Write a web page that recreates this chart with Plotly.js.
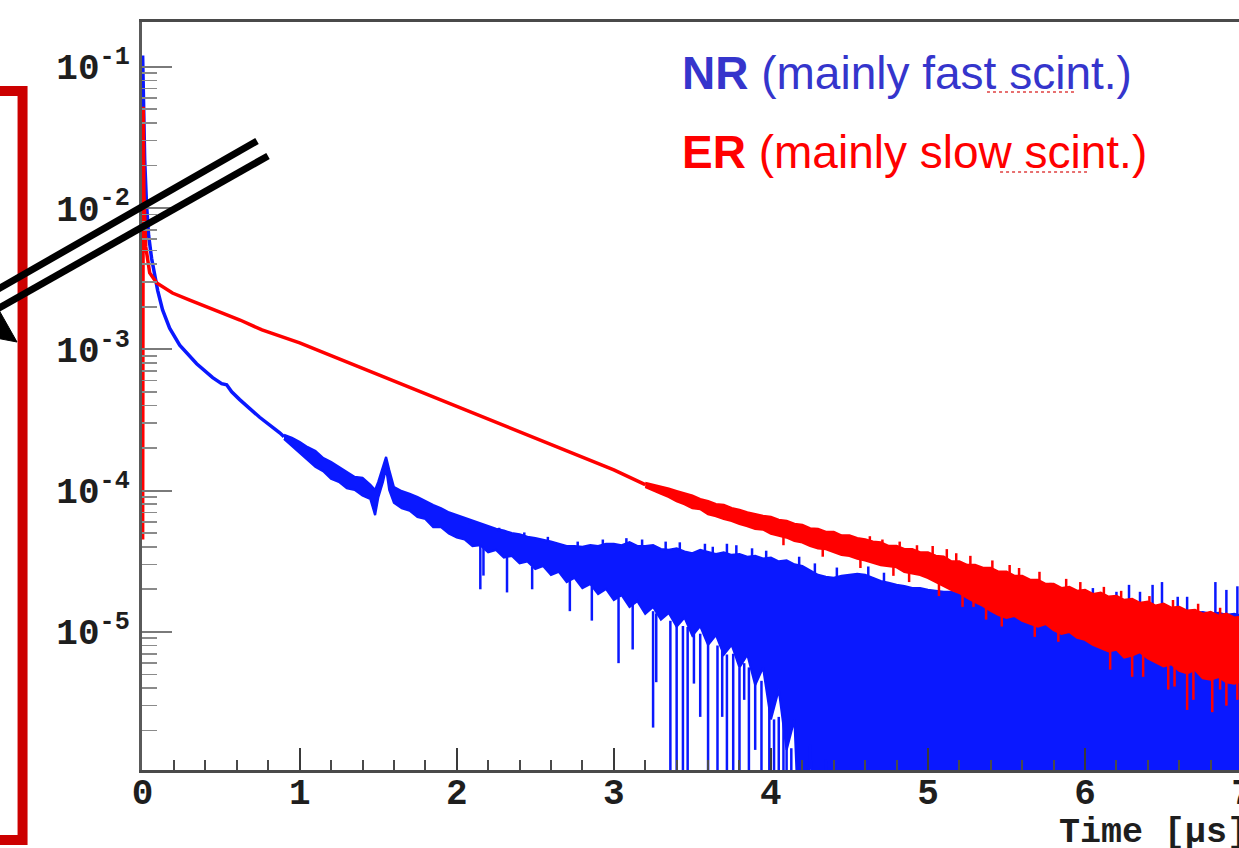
<!DOCTYPE html>
<html>
<head>
<meta charset="utf-8">
<script src="https://cdn.plot.ly/plotly-3.0.1.min.js"></script>
<style>
  html, body { margin: 0; padding: 0; background: #ffffff; overflow: hidden; width: 1239px; height: 848px; }
  #chart { position: absolute; left: -60px; top: 0; width: 1400px; height: 848px; }
</style>
</head>
<body>
<div id="chart"></div>
<script>
// ---------------- data ----------------
// NR (blue): steep fast component, then slow noisy tail
const blueLineT = [0, 0.006, 0.013, 0.025, 0.038, 0.057, 0.076, 0.096, 0.127, 0.172, 0.236, 0.344, 0.446, 0.503, 0.535, 0.567, 0.618, 0.745, 0.873, 0.90];
const blueLineY = [1.2e-1, 5.8e-2, 2.2e-2, 1.05e-2, 6.4e-3, 4.4e-3, 3.4e-3, 2.6e-3, 1.9e-3, 1.41e-3, 1.07e-3, 7.9e-4, 6.3e-4, 5.7e-4, 5.6e-4, 5.0e-4, 4.4e-4, 3.3e-4, 2.56e-4, 2.4e-4];

const blueBandT = [0.90,0.95,1.00,1.05,1.10,1.15,1.20,1.25,1.30,1.35,1.40,1.45,1.48,1.50,1.53,1.55,1.57,
  1.60,1.65,1.70,1.75,1.80,1.85,1.90,1.95,2.00,2.05,2.10,2.15,2.20,2.25,2.30,2.35,2.40,2.45,2.50,2.55,2.60,2.65,2.70,2.75,2.80,2.85,2.90,2.95,
  3.00,3.05,3.10,3.15,3.20,3.25,3.30,3.35,3.40,3.45,3.50,3.55,3.60,3.65,3.70,3.75,3.80,3.85,3.90,3.95,
  4.00,4.05,4.10,4.15,4.20,4.25,4.30,4.35,4.40,4.45,4.50,4.55,4.60,4.65,4.70,4.75,4.80,4.85,4.90,4.95,
  5.00,5.05,5.10,5.15,5.20,5.25,5.30,5.35,5.40,5.45,5.50,5.55,5.60,5.65,5.70,5.75,5.80,5.85,5.90,5.95,
  6.00,6.05,6.10,6.15,6.20,6.25,6.30,6.35,6.40,6.45,6.50,6.55,6.60,6.65,6.70,6.75,6.80,6.85,6.90,6.95,7.00,7.05];
const blueHi = [2.48e-4,2.36e-4,2.21e-4,2.03e-4,1.91e-4,1.7e-4,1.59e-4,1.47e-4,1.37e-4,1.25e-4,1.23e-4,1.1e-4,1.01e-4,1.15e-4,1.47e-4,1.73e-4,1.4e-4,
  1.06e-4,9.9e-5,9.5e-5,9.0e-5,8.4e-5,7.9e-5,7.5e-5,7.0e-5,6.7e-5,6.4e-5,6.1e-5,5.8e-5,5.6e-5,5.35e-5,5.2e-5,5.0e-5,4.9e-5,4.7e-5,4.6e-5,4.5e-5,4.35e-5,4.2e-5,4.05e-5,4.05e-5,4.0e-5,4.1e-5,4.05e-5,4.2e-5,
  4.2e-5,4.1e-5,4.3e-5,4.05e-5,4.05e-5,4.1e-5,3.85e-5,3.8e-5,3.9e-5,3.7e-5,3.6e-5,3.8e-5,3.65e-5,3.55e-5,3.65e-5,3.5e-5,3.55e-5,3.4e-5,3.45e-5,3.3e-5,
  3.35e-5,3.15e-5,3.2e-5,3.0e-5,2.92e-5,2.7e-5,2.53e-5,2.45e-5,2.41e-5,2.49e-5,2.53e-5,2.57e-5,2.53e-5,2.41e-5,2.29e-5,2.22e-5,2.15e-5,2.11e-5,2.04e-5,2.04e-5,
  1.98e-5,1.95e-5,1.92e-5,1.92e-5,1.85e-5,1.85e-5,1.79e-5,1.79e-5,1.74e-5,1.74e-5,1.68e-5,1.68e-5,1.65e-5,1.65e-5,1.6e-5,1.63e-5,1.58e-5,1.58e-5,1.55e-5,1.55e-5,
  1.53e-5,1.53e-5,1.5e-5,1.5e-5,1.48e-5,1.48e-5,1.45e-5,1.45e-5,1.43e-5,1.43e-5,1.41e-5,1.41e-5,1.38e-5,1.38e-5,1.36e-5,1.38e-5,1.34e-5,1.36e-5,1.32e-5,1.34e-5,1.3e-5,1.32e-5];
const blueLo = [2.32e-4,2.07e-4,1.85e-4,1.67e-4,1.47e-4,1.37e-4,1.21e-4,1.15e-4,1.04e-4,1.01e-4,9.2e-5,8.7e-5,6.7e-5,8.9e-5,1.15e-4,1.44e-4,1.01e-4,
  8.2e-5,7.5e-5,7.2e-5,6.5e-5,6.3e-5,5.5e-5,5.5e-5,4.95e-5,4.65e-5,4.5e-5,4.05e-5,4.1e-5,3.65e-5,3.8e-5,3.35e-5,3.45e-5,3.05e-5,3.15e-5,2.78e-5,2.92e-5,2.53e-5,2.66e-5,2.25e-5,2.41e-5,2.04e-5,2.18e-5,1.85e-5,2.01e-5,
  1.68e-5,1.82e-5,1.5e-5,1.65e-5,1.34e-5,1.5e-5,1.22e-5,1.36e-5,1.09e-5,1.26e-5,9.4e-6,1.1e-5,8.1e-6,9.5e-6,6.9e-6,8.1e-6,5.6e-6,6.9e-6,4.2e-6,5.6e-6,
  2.4e-6,3.9e-6,1.46e-6,2.4e-6,1e-7,1.6e-6,1e-7,1.24e-6,1e-7,1e-7,1e-7,1e-7,1e-7,1e-7,1e-7,1e-7,1e-7,1e-7,1e-7,1e-7,
  1e-7,1e-7,1e-7,1e-7,1e-7,1e-7,1e-7,1e-7,1e-7,1e-7,1e-7,1e-7,1e-7,1e-7,1e-7,1e-7,1e-7,1e-7,1e-7,1e-7,
  1e-7,1e-7,1e-7,1e-7,1e-7,1e-7,1e-7,1e-7,1e-7,1e-7,1e-7,1e-7,1e-7,1e-7,1e-7,1e-7,1e-7,1e-7,1e-7,1e-7,1e-7,1e-7];

// NR downward noise spikes (time, from, to)
const blueDnT    = [2.15, 2.17, 2.32, 2.48, 2.72, 2.86, 3.03, 3.12, 3.25, 3.27, 3.36, 3.40, 3.44, 3.47, 3.51, 3.55, 3.60, 3.66, 3.69, 3.72, 3.76, 3.80, 3.83, 3.86, 3.90, 3.94, 3.99, 4.02, 4.05, 4.08, 4.10, 4.13];
const blueDnFrom = [4.1e-5, 4.0e-5, 3.4e-5, 2.9e-5, 2.3e-5, 2.1e-5, 1.75e-5, 1.6e-5, 1.4e-5, 1.35e-5, 1.2e-5, 1.15e-5, 1.1e-5, 1.08e-5, 1.0e-5, 9.7e-6, 8.6e-6, 8.0e-6, 7.4e-6, 6.9e-6, 7.0e-6, 5.6e-6, 6.0e-6, 5.6e-6, 4.9e-6, 4.5e-6, 3.5e-6, 2.4e-6, 2.5e-6, 2.4e-6, 2.0e-6, 1.5e-6];
const blueDnTo   = [2.0e-5, 2.5e-5, 1.9e-5, 2.0e-5, 1.4e-5, 1.2e-5, 6.0e-6, 7.5e-6, 2.1e-6, 4.4e-6, 1e-7, 1e-7, 1e-7, 1e-7, 4.3e-6, 2.5e-6, 1e-7, 1e-7, 2.5e-6, 1e-7, 1e-7, 1e-7, 3.3e-6, 1e-7, 1.46e-6, 1e-7, 1e-7, 1e-7, 1e-7, 1e-7, 1e-7, 1e-7];
// NR upward noise spikes (time, base, top)
const blueUpT    = [2.08, 2.27, 2.43, 2.58, 2.77, 2.93, 3.08, 3.18, 3.33, 3.42, 3.58, 3.63, 3.72, 3.78, 3.88, 3.97, 4.18, 4.28, 4.42, 4.62, 4.72,
  5.63, 5.78, 6.05, 6.20, 6.28, 6.35, 6.43, 6.49, 6.59, 6.65, 6.83, 6.90, 6.97];
const blueUpBase = [5.8e-5, 5.1e-5, 4.7e-5, 4.35e-5, 4.0e-5, 4.05e-5, 4.1e-5, 4.0e-5, 3.8e-5, 3.85e-5, 3.65e-5, 3.55e-5, 3.6e-5, 3.5e-5, 3.4e-5, 3.3e-5, 2.92e-5, 2.61e-5, 2.41e-5, 2.49e-5, 2.25e-5,
  1.6e-5, 1.55e-5, 1.5e-5, 1.45e-5, 1.45e-5, 1.45e-5, 1.4e-5, 1.4e-5, 1.35e-5, 1.35e-5, 1.3e-5, 1.3e-5, 1.3e-5];
const blueUpTop  = [6.2e-5, 5.45e-5, 5.05e-5, 4.7e-5, 4.35e-5, 4.5e-5, 4.6e-5, 4.5e-5, 4.35e-5, 4.3e-5, 4.2e-5, 4.0e-5, 4.2e-5, 4.1e-5, 3.9e-5, 3.75e-5, 3.4e-5, 3.05e-5, 2.85e-5, 2.9e-5, 2.62e-5,
  2.15e-5, 2.22e-5, 2.04e-5, 1.92e-5, 2.15e-5, 1.92e-5, 2.15e-5, 2.25e-5, 1.77e-5, 1.77e-5, 2.25e-5, 1.98e-5, 2.1e-5];

// ER (red): mainly slow component
const redLineT = [0, 0.004, 0.008, 0.02, 0.045, 0.09, 0.19, 0.30, 0.41, 0.51, 0.62, 0.76, 0.90, 1.00, 1.20, 1.50, 1.75, 2.00, 2.25, 2.50, 2.75, 3.00, 3.20];
const redLineY = [4.5e-5, 5.2e-2, 1.28e-2, 5.3e-3, 3.47e-3, 2.94e-3, 2.5e-3, 2.23e-3, 1.99e-3, 1.81e-3, 1.61e-3, 1.37e-3, 1.22e-3, 1.11e-3, 9.0e-4, 6.6e-4, 5.1e-4, 3.97e-4, 3.06e-4, 2.36e-4, 1.82e-4, 1.4e-4, 1.1e-4];

const redBandT = [3.20,3.25,3.30,3.35,3.40,3.45,3.50,3.55,3.60,3.65,3.70,3.75,3.80,3.85,3.90,3.95,
  4.00,4.05,4.10,4.15,4.20,4.25,4.30,4.35,4.40,4.45,4.50,4.55,4.60,4.65,4.70,4.75,4.80,4.85,4.90,4.95,
  5.00,5.05,5.10,5.15,5.20,5.25,5.30,5.35,5.40,5.45,5.50,5.55,5.60,5.65,5.70,5.75,5.80,5.85,5.90,5.95,
  6.00,6.05,6.10,6.15,6.20,6.25,6.30,6.35,6.40,6.45,6.50,6.55,6.60,6.65,6.70,6.75,6.80,6.85,6.90,6.95,7.00,7.05];
const redHi = [1.13e-4,1.1e-4,1.06e-4,1.03e-4,9.9e-5,9.5e-5,9.2e-5,8.7e-5,8.4e-5,8.0e-5,7.9e-5,7.5e-5,7.3e-5,7.0e-5,6.8e-5,6.6e-5,
  6.5e-5,6.2e-5,6.1e-5,5.8e-5,5.7e-5,5.4e-5,5.35e-5,5.1e-5,5.1e-5,4.8e-5,4.8e-5,4.6e-5,4.5e-5,4.35e-5,4.3e-5,4.05e-5,4.05e-5,3.85e-5,3.85e-5,3.65e-5,
  3.65e-5,3.45e-5,3.4e-5,3.15e-5,3.15e-5,2.97e-5,2.97e-5,2.83e-5,2.83e-5,2.66e-5,2.66e-5,2.49e-5,2.49e-5,2.33e-5,2.33e-5,2.18e-5,2.18e-5,2.04e-5,2.08e-5,1.95e-5,
  1.98e-5,1.85e-5,1.89e-5,1.77e-5,1.79e-5,1.68e-5,1.71e-5,1.6e-5,1.63e-5,1.53e-5,1.58e-5,1.48e-5,1.5e-5,1.41e-5,1.43e-5,1.34e-5,1.38e-5,1.3e-5,1.34e-5,1.26e-5,1.28e-5,1.22e-5];
const redLo = [1.06e-4,1.01e-4,9.5e-5,9.0e-5,8.4e-5,8.0e-5,7.5e-5,7.4e-5,6.8e-5,6.6e-5,6.3e-5,6.1e-5,5.8e-5,5.6e-5,5.35e-5,5.3e-5,
  4.95e-5,4.8e-5,4.65e-5,4.4e-5,4.3e-5,4.05e-5,3.9e-5,3.85e-5,3.65e-5,3.5e-5,3.45e-5,3.3e-5,3.2e-5,3.1e-5,2.97e-5,2.92e-5,2.87e-5,2.66e-5,2.61e-5,2.53e-5,
  2.41e-5,2.25e-5,2.11e-5,1.98e-5,1.89e-5,1.74e-5,1.63e-5,1.53e-5,1.41e-5,1.32e-5,1.26e-5,1.3e-5,1.2e-5,1.14e-5,1.09e-5,1.14e-5,1.03e-5,9.7e-6,1.0e-5,9.1e-6,
  8.8e-6,8.1e-6,7.7e-6,7.3e-6,7.5e-6,6.6e-6,6.8e-6,7.2e-6,6.5e-6,6.1e-6,5.7e-6,5.9e-6,5.3e-6,5.1e-6,5.4e-6,4.7e-6,4.6e-6,4.8e-6,4.4e-6,4.3e-6,4.5e-6,4.2e-6];
// ER upward noise spikes (time, base, top)
const redUpT    = [4.63, 4.71, 4.82, 4.93, 5.03, 5.12, 5.18, 5.27, 5.41, 5.52, 5.58, 5.71, 5.88, 5.97, 6.12, 6.23, 6.41, 6.56, 6.72, 6.86, 6.99];
const redUpBase = [4.4e-5, 4.2e-5, 4.0e-5, 3.7e-5, 3.55e-5, 3.3e-5, 3.15e-5, 2.97e-5, 2.78e-5, 2.57e-5, 2.49e-5, 2.29e-5, 2.04e-5, 1.95e-5, 1.82e-5, 1.74e-5, 1.58e-5, 1.48e-5, 1.38e-5, 1.3e-5, 1.24e-5];
const redUpTop  = [4.75e-5, 4.5e-5, 4.35e-5, 4.1e-5, 4.05e-5, 3.85e-5, 3.6e-5, 3.45e-5, 3.2e-5, 2.97e-5, 2.83e-5, 2.66e-5, 2.37e-5, 2.25e-5, 2.08e-5, 1.95e-5, 1.79e-5, 1.68e-5, 1.58e-5, 1.48e-5, 1.41e-5];
// ER downward noise spikes (time, from, to)
const redSpkT    = [4.08, 4.33, 4.57, 4.78, 4.88, 5.07, 5.22, 5.29, 5.37, 5.47, 5.68, 5.83, 6.16, 6.30, 6.37, 6.53, 6.57, 6.65, 6.69, 6.81, 6.86, 6.90, 6.97];
const redSpkFrom = [4.8e-5, 3.9e-5, 3.3e-5, 2.87e-5, 2.66e-5, 2.18e-5, 1.85e-5, 1.8e-5, 1.48e-5, 1.3e-5, 1.3e-5, 1.1e-5, 9e-6, 8e-6, 8e-6, 7e-6, 7e-6, 6.5e-6, 6.5e-6, 6e-6, 6e-6, 6e-6, 5.5e-6];
const redSpkTo   = [4.1e-5, 3.4e-5, 2.83e-5, 2.49e-5, 2.25e-5, 1.79e-5, 1.5e-5, 1.5e-5, 1.22e-5, 1.09e-5, 9.2e-6, 8.5e-6, 5.4e-6, 4.8e-6, 4.8e-6, 3.9e-6, 4.1e-6, 2.8e-6, 3.3e-6, 2.7e-6, 3.9e-6, 3.0e-6, 3.3e-6];

// axis tick labels and texts
const yTickVals = [1e-5, 1e-4, 1e-3, 1e-2, 1e-1];
const yTickText = ['10<sup>-5</sup>', '10<sup>-4</sup>', '10<sup>-3</sup>', '10<sup>-2</sup>', '10<sup>-1</sup>'];
const xTitle = 'Time [µs]';
const labelNR = '<b>NR</b> (mainly fast scint.)';
const labelER = '<b>ER</b> (mainly slow scint.)';

// ---------------- drawing ----------------
const BLUE = '#0a18ff';
const RED = '#ff0000';

function segments(t, a, b) {
  const xs = [], ys = [];
  for (let i = 0; i < t.length; i++) { xs.push(t[i], t[i], null); ys.push(a[i], b[i], null); }
  return { x: xs, y: ys };
}

const base = { type: 'scatter', mode: 'lines', hoverinfo: 'skip', showlegend: false };
const bDn = segments(blueDnT, blueDnFrom, blueDnTo);
const bUp = segments(blueUpT, blueUpBase, blueUpTop);
const rUp = segments(redUpT, redUpBase, redUpTop);
const rSp = segments(redSpkT, redSpkFrom, redSpkTo);

const traces = [
  Object.assign({}, base, { x: blueLineT, y: blueLineY, line: { color: BLUE, width: 3.5 } }),
  Object.assign({}, base, { x: blueBandT, y: blueHi, line: { color: BLUE, width: 2.2 } }),
  Object.assign({}, base, { x: blueBandT, y: blueLo, line: { color: BLUE, width: 2.2 }, fill: 'tonexty', fillcolor: BLUE }),
  Object.assign({}, base, { x: bDn.x, y: bDn.y, line: { color: BLUE, width: 2.5 }, connectgaps: false }),
  Object.assign({}, base, { x: bUp.x, y: bUp.y, line: { color: BLUE, width: 2.5 }, connectgaps: false }),
  Object.assign({}, base, { x: redLineT, y: redLineY, line: { color: RED, width: 3.5 } }),
  Object.assign({}, base, { x: redBandT, y: redHi, line: { color: RED, width: 2.4 } }),
  Object.assign({}, base, { x: redBandT, y: redLo, line: { color: RED, width: 2.4 }, fill: 'tonexty', fillcolor: RED }),
  Object.assign({}, base, { x: rUp.x, y: rUp.y, line: { color: RED, width: 2.5 }, connectgaps: false }),
  Object.assign({}, base, { x: rSp.x, y: rSp.y, line: { color: RED, width: 2.5 }, connectgaps: false })
];

// minor tick positions of the log axis (2..9 per decade)
const yMinor = [];
for (let e = -6; e <= -1; e++) for (let d = 2; d <= 9; d++) { const v = d * Math.pow(10, e); if (v > 1.06e-6 && v < 0.15) yMinor.push(v); }

const tickFont = { family: 'Liberation Mono, Courier New, monospace', size: 36, color: '#1e1e1e', weight: 'bold' };

const layout = {
  width: 1400, height: 848,
  margin: { l: 202, r: 20, t: 22, b: 78, pad: 0 },
  paper_bgcolor: '#ffffff', plot_bgcolor: '#ffffff',
  xaxis: {
    range: [-0.004, 7.496], showgrid: false, zeroline: false,
    showline: true, linecolor: '#4a4a4a', linewidth: 3, mirror: true,
    ticks: 'inside', ticklen: 22, tickwidth: 2, tickcolor: '#3a3a3a',
    tickmode: 'linear', tick0: 0, dtick: 1, ticklabelstandoff: -12,
    minor: { ticks: 'inside', ticklen: 10, tickwidth: 2, tickcolor: '#4a4a4a', dtick: 0.2, tick0: 0, showgrid: false },
    tickfont: tickFont
  },
  yaxis: {
    type: 'log', range: [-5.978, -0.684], showgrid: false, zeroline: false,
    showline: true, linecolor: '#5a5a5a', linewidth: 3,
    ticks: 'inside', ticklen: 30, tickwidth: 2, tickcolor: '#7a7a7a',
    tickmode: 'array', tickvals: yTickVals, ticktext: yTickText, ticklabelstandoff: 2,
    minor: { ticks: 'inside', ticklen: 15, tickwidth: 1.6, tickcolor: '#8a8a8a', tickmode: 'array', tickvals: yMinor, showgrid: false },
    tickfont: tickFont
  },
  annotations: [
    { xref: 'paper', yref: 'paper', x: 0.4567, y: 0.9318, xanchor: 'left', yanchor: 'middle', showarrow: false,
      text: labelNR, font: { family: 'Liberation Sans, Arial, sans-serif', size: 46, color: '#3535cc' } },
    { xref: 'paper', yref: 'paper', x: 0.4567, y: 0.8262, xanchor: 'left', yanchor: 'middle', showarrow: false,
      text: labelER, font: { family: 'Liberation Sans, Arial, sans-serif', size: 46, color: '#ff0000' } },
    { xref: 'paper', yref: 'paper', x: 0.7767, y: -0.0842, xanchor: 'left', yanchor: 'middle', showarrow: false,
      text: xTitle, font: { family: 'Liberation Mono, Courier New, monospace', size: 35, color: '#1e1e1e', weight: 'bold' } }
  ],
  shapes: [
    // red frame on the left
    { type: 'rect', xref: 'paper', yref: 'paper', x0: -0.1375, x1: -0.1014, y0: -0.0936, y1: 0.9078,
      line: { color: '#cc0000', width: 10 }, fillcolor: 'rgba(0,0,0,0)', layer: 'above' },
    // two black pointer lines
    { type: 'line', xref: 'paper', yref: 'paper', x0: 0.09762, y0: 0.8409, x1: -0.1375, y1: 0.6291,
      line: { color: '#000000', width: 7 }, layer: 'above' },
    { type: 'line', xref: 'paper', yref: 'paper', x0: 0.10696, y0: 0.8209, x1: -0.1220, y1: 0.6170,
      line: { color: '#000000', width: 7 }, layer: 'above' },
    { type: 'path', xref: 'paper', yref: 'paper', path: 'M -0.15526 0.58690 L -0.10611 0.57219 L -0.13786 0.66070 Z',
      fillcolor: '#000000', line: { color: '#000000', width: 1 }, layer: 'above' },
    // dotted spell-check underlines
    { type: 'line', xref: 'paper', yref: 'paper', x0: 0.7173, x1: 0.7920, y0: 0.9064, y1: 0.9064,
      line: { color: '#e04040', width: 1.5, dash: 'dot' }, layer: 'above' },
    { type: 'line', xref: 'paper', yref: 'paper', x0: 0.7284, x1: 0.8022, y0: 0.7995, y1: 0.7995,
      line: { color: '#e04040', width: 1.5, dash: 'dot' }, layer: 'above' }
  ]
};

Plotly.newPlot('chart', traces, layout, { staticPlot: true, displayModeBar: false });
</script>
</body>
</html>
